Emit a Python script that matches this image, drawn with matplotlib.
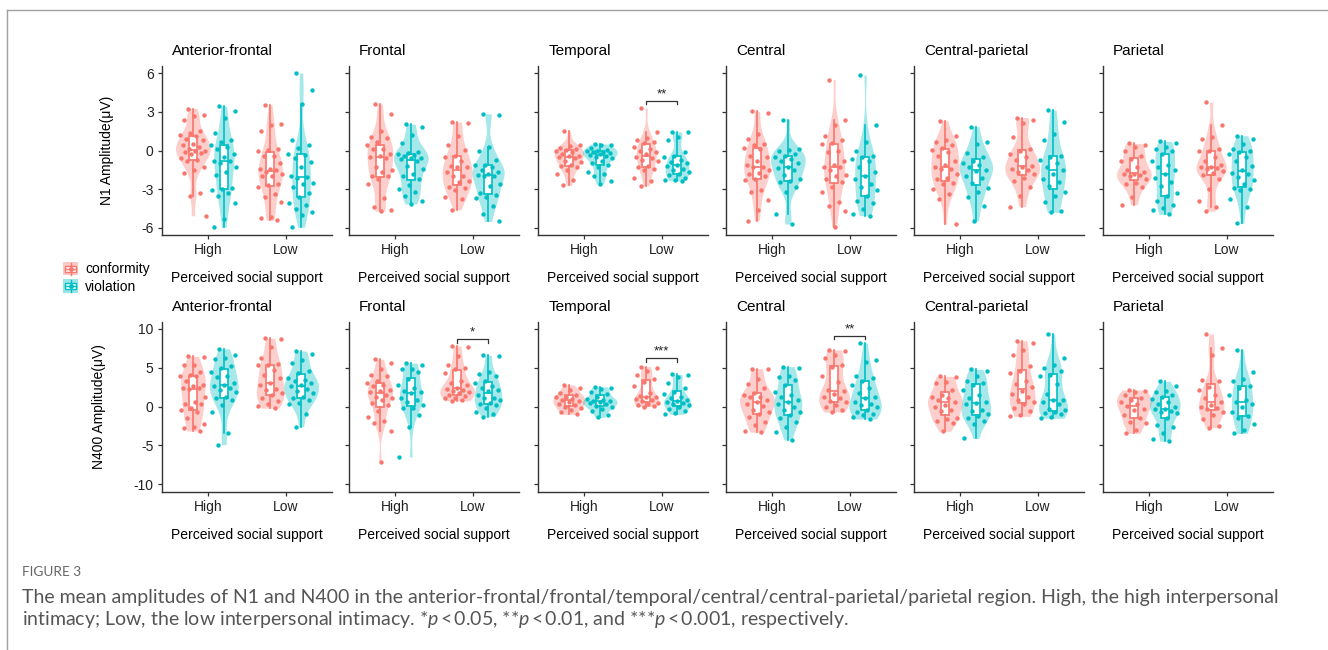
import numpy as np
import matplotlib
matplotlib.use('Agg')
import matplotlib.pyplot as plt
from matplotlib.patches import Rectangle, Patch
from matplotlib.lines import Line2D
from matplotlib.legend_handler import HandlerBase

plt.rcParams['font.family'] = ['Liberation Sans', 'DejaVu Sans']
plt.rcParams['mathtext.fontset'] = 'custom'
plt.rcParams['mathtext.it'] = 'Lato:italic'

regions = ['Anterior-frontal', 'Frontal', 'Temporal', 'Central', 'Central-parietal', 'Parietal']
support = ['High', 'Low']
conditions = ['conformity', 'violation']
cond_colors = ['#F8766D', '#00BFC4']

# N1 amplitude (uV); each region: [High-conformity, High-violation, Low-conformity, Low-violation]
n1_anterior_frontal = [
    [3.25, 2.73, 2.65, 2.34, 1.5, 1.35, 1.2, 1.1, 0.9, 0.78, 0.52, 0.39, 0.3, 0.15, 0.0, -0.05, -0.13, -0.2, -0.31, -0.6, -0.73, -0.78, -1.3, -1.5, -1.77, -3.3, -3.5, -5.06],
    [3.45, 3.1, 2.5, 1.35, 0.8, 0.65, 0.4, 0.3, 0.1, -0.3, -0.5, -0.8, -0.85, -1.0, -1.3, -1.7, -1.9, -2.9, -3.0, -3.1, -3.3, -3.5, -4.1, -5.3, -5.95],
    [3.55, 2.05, 2.0, 1.55, 0.1, 0.05, 0.0, -0.4, -0.45, -1.0, -1.4, -1.45, -1.5, -1.7, -1.8, -1.95, -2.0, -2.6, -2.65, -2.8, -3.4, -3.6, -4.0, -5.15, -5.2, -5.4],
    [6.0, 4.7, 3.6, 0.85, 0.4, 0.2, -0.3, -0.35, -0.6, -0.9, -1.3, -1.95, -2.05, -2.1, -2.5, -2.6, -2.85, -3.3, -3.6, -4.1, -4.2, -4.55, -4.8, -5.0, -5.95],
]
n1_frontal = [
    [3.6, 2.85, 1.55, 1.05, 1.0, 0.65, 0.4, 0.15, 0.1, -0.3, -0.45, -0.5, -0.55, -1.3, -1.55, -1.7, -1.95, -2.0, -2.2, -2.6, -3.7, -4.35, -4.65, -4.7],
    [2.05, 1.85, 1.2, 0.6, -0.1, -0.2, -0.25, -0.35, -0.45, -0.55, -0.6, -0.65, -0.8, -1.2, -1.4, -1.8, -1.95, -2.2, -2.7, -3.0, -3.25, -3.5, -3.9, -4.15],
    [2.2, 2.15, 1.15, 0.45, 0.05, -0.4, -0.5, -0.8, -1.2, -1.25, -1.3, -1.7, -1.95, -2.0, -2.35, -2.45, -2.8, -2.9, -3.1, -3.6, -3.75, -4.6],
    [2.85, 2.75, 0.3, 0.0, -0.75, -1.1, -1.15, -1.3, -1.5, -1.7, -1.8, -1.9, -1.95, -2.0, -2.6, -2.75, -3.3, -3.45, -3.6, -3.7, -4.3, -4.9, -5.5],
]
n1_temporal = [
    [1.5, 0.4, 0.35, 0.2, 0.1, 0.05, 0.0, -0.1, -0.25, -0.4, -0.45, -0.5, -0.6, -0.8, -0.9, -1.15, -1.2, -1.3, -1.55, -1.8, -2.3, -2.7],
    [0.5, 0.45, 0.4, 0.2, 0.05, 0.0, -0.05, -0.1, -0.15, -0.2, -0.25, -0.35, -0.4, -0.5, -0.6, -0.8, -1.0, -1.1, -1.25, -1.7, -1.85, -1.95, -2.4, -2.6],
    [3.3, 1.45, 1.0, 0.8, 0.65, 0.55, 0.25, 0.1, 0.0, -0.15, -0.3, -0.5, -0.55, -0.7, -0.8, -1.2, -1.3, -1.45, -1.5, -2.1, -2.35, -2.75],
    [1.45, 1.4, 1.05, 0.8, -0.15, -0.4, -0.5, -0.7, -0.9, -1.0, -1.1, -1.2, -1.4, -1.55, -1.7, -1.8, -1.9, -2.1, -2.25, -2.3, -2.35],
]
n1_central = [
    [3.05, 2.9, 1.3, 0.9, 0.5, 0.4, 0.2, 0.1, -0.4, -0.5, -0.8, -1.1, -1.25, -1.3, -1.5, -1.75, -1.8, -1.95, -2.2, -2.3, -3.05, -3.25, -3.8, -4.6, -5.45],
    [2.4, 0.15, 0.05, 0.0, -0.3, -0.4, -0.5, -0.65, -0.8, -1.0, -1.3, -1.35, -1.5, -1.9, -2.2, -2.35, -2.45, -2.8, -3.25, -4.95, -5.7],
    [5.5, 2.35, 1.95, 1.15, 0.8, 0.6, 0.5, 0.0, -0.1, -0.8, -1.15, -1.25, -1.3, -1.55, -1.9, -2.0, -2.2, -2.45, -2.8, -3.25, -4.0, -4.3, -4.7, -5.9],
    [5.85, 1.95, 0.65, 0.0, -0.4, -0.5, -0.65, -0.8, -1.3, -1.7, -1.95, -2.2, -2.6, -2.8, -3.1, -3.5, -3.9, -4.05, -4.55, -4.9, -5.05],
]
n1_central_parietal = [
    [2.3, 1.15, 0.8, 0.65, 0.4, 0.2, 0.05, -0.15, -0.4, -0.8, -1.15, -1.25, -1.4, -1.45, -1.8, -2.1, -2.2, -2.5, -2.6, -3.0, -3.4, -3.75, -5.7],
    [1.85, 0.65, 0.5, -0.2, -0.5, -0.8, -0.95, -1.15, -1.3, -1.5, -1.6, -1.95, -2.1, -2.5, -2.9, -3.25, -3.6, -4.3, -5.45],
    [2.55, 2.4, 2.1, 1.05, 0.15, 0.0, -0.25, -0.5, -0.75, -1.2, -1.25, -1.4, -1.55, -1.7, -1.8, -2.1, -2.35, -2.85, -3.5, -4.35],
    [3.15, 2.2, 1.25, 0.8, -0.4, -0.5, -0.7, -1.0, -1.3, -1.55, -1.8, -2.2, -2.45, -2.75, -3.25, -3.5, -4.0, -4.7, -4.8],
]
n1_parietal = [
    [0.55, 0.45, 0.25, 0.0, -0.4, -0.65, -0.8, -1.25, -1.55, -1.7, -1.8, -1.85, -1.9, -2.0, -2.2, -2.5, -2.6, -2.85, -3.6, -4.2],
    [0.7, 0.6, 0.25, 0.15, 0.0, -0.3, -0.8, -1.15, -1.3, -1.55, -1.85, -2.1, -2.45, -2.75, -3.3, -3.55, -3.95, -4.2, -4.45, -4.65, -4.95],
    [3.75, 1.95, 1.05, 0.9, 0.15, 0.0, -0.05, -0.5, -0.8, -1.15, -1.25, -1.3, -1.35, -1.45, -1.6, -1.75, -1.9, -2.2, -3.0, -3.9, -4.4, -4.7],
    [1.15, 0.9, 0.5, 0.15, 0.0, -0.1, -0.3, -0.5, -0.8, -1.2, -1.5, -1.75, -1.8, -2.05, -2.3, -2.6, -2.9, -3.0, -3.1, -3.75, -4.4, -5.65],
]

# N400 amplitude (uV)
n400_anterior_frontal = [
    [6.5, 6.4, 5.4, 5.3, 4.5, 4.1, 4.0, 3.9, 3.35, 2.8, 2.7, 2.4, 2.35, 2.3, 1.3, 0.55, 0.4, 0.3, -0.2, -0.45, -0.65, -1.5, -2.3, -2.6, -2.8, -3.15],
    [7.45, 6.7, 6.3, 6.1, 5.2, 5.0, 4.4, 3.9, 3.8, 3.0, 2.8, 2.7, 2.4, 2.2, 1.9, 1.3, 1.05, 0.9, 0.2, -0.75, -3.35, -4.9],
    [8.8, 8.7, 7.65, 6.3, 5.5, 5.4, 5.3, 4.75, 4.1, 3.7, 3.0, 2.8, 2.3, 2.1, 1.8, 1.45, 1.1, 0.75, 0.3, 0.1, -0.2],
    [7.15, 6.8, 6.05, 5.6, 4.65, 4.3, 3.7, 3.45, 3.25, 3.0, 2.8, 2.6, 2.3, 2.05, 1.75, 1.3, 1.05, 0.85, 0.45, 0.3, -1.0, -2.6],
]
n400_frontal = [
    [6.1, 5.6, 4.9, 4.1, 3.9, 3.25, 3.0, 2.8, 2.6, 2.1, 2.0, 1.9, 1.5, 1.3, 1.1, 0.9, 0.5, 0.2, -0.6, -1.3, -1.9, -2.05, -3.15, -7.1],
    [5.6, 5.4, 4.9, 4.8, 4.5, 3.5, 2.8, 2.4, 2.05, 1.85, 1.7, 1.1, 0.9, 0.65, 0.2, -0.15, -0.2, -1.1, -2.6, -6.5],
    [7.8, 7.65, 6.5, 5.4, 5.0, 4.8, 4.3, 3.25, 3.0, 2.8, 2.45, 2.3, 2.15, 2.0, 1.85, 1.7, 1.5, 1.4, 1.15, 1.05, 0.85, 0.75],
    [6.6, 6.5, 4.45, 4.2, 4.0, 3.25, 3.0, 2.6, 2.45, 2.15, 2.0, 1.5, 1.15, 1.05, 0.85, 0.45, 0.3, 0.2, -0.2, -0.65, -1.0, -1.3],
]
n400_temporal = [
    [2.8, 2.4, 2.1, 1.8, 1.55, 1.3, 1.2, 1.0, 0.85, 0.75, 0.6, 0.3, 0.25, 0.0, -0.2, -0.5, -0.7, -1.0],
    [2.55, 2.45, 2.3, 1.9, 1.6, 1.3, 1.0, 0.8, 0.75, 0.7, 0.55, 0.45, 0.3, 0.1, 0.0, -0.3, -0.6, -1.05, -1.4],
    [5.15, 4.95, 4.6, 4.1, 3.6, 3.2, 2.6, 1.7, 1.4, 1.3, 1.2, 1.0, 0.85, 0.7, 0.45, 0.3, 0.2, 0.1, 0.0],
    [4.15, 4.1, 3.85, 3.0, 2.35, 1.85, 1.6, 1.3, 1.05, 0.85, 0.7, 0.55, 0.45, 0.3, 0.15, 0.0, -0.3, -0.55, -0.85, -1.0],
]
n400_central = [
    [4.9, 4.85, 3.6, 2.95, 2.4, 1.7, 1.5, 1.3, 1.2, 0.9, 0.55, 0.3, 0.1, -0.45, -0.65, -1.0, -1.3, -1.95, -2.35, -3.1, -3.3],
    [5.15, 4.95, 4.0, 3.85, 3.4, 2.8, 1.9, 1.5, 1.3, 0.85, 0.55, 0.3, 0.0, -0.45, -0.65, -1.1, -1.5, -1.95, -2.6, -3.25, -4.3],
    [7.3, 7.1, 6.7, 6.2, 5.3, 5.1, 3.9, 3.2, 2.15, 2.0, 1.6, 1.3, 1.1, 0.75, 0.55, 0.2, -0.1, -0.4, -0.7],
    [8.2, 6.0, 5.8, 4.0, 3.7, 3.25, 2.8, 2.35, 1.7, 1.3, 1.1, 0.55, 0.3, 0.2, 0.0, -0.45, -0.75, -1.0, -1.1, -1.3, -1.6],
]
n400_central_parietal = [
    [3.9, 3.8, 3.2, 3.05, 2.15, 1.5, 1.3, 1.1, 0.9, 0.6, 0.25, 0.0, -0.4, -0.55, -1.5, -1.6, -1.85, -2.1, -3.2],
    [4.8, 4.55, 4.0, 3.25, 3.0, 2.8, 2.15, 1.5, 1.05, 0.55, 0.45, 0.3, -0.4, -0.6, -1.0, -1.25, -1.45, -1.9, -2.25, -4.1],
    [8.5, 8.2, 7.3, 6.7, 5.2, 4.6, 4.3, 3.25, 2.85, 2.5, 2.0, 1.6, 1.3, 0.9, 0.6, 0.3, -0.2, -0.6, -1.05, -1.25],
    [9.35, 6.3, 5.4, 5.0, 4.55, 4.1, 3.9, 2.9, 1.6, 0.9, 0.85, 0.6, 0.3, -0.25, -0.5, -0.65, -0.8, -1.0, -1.3, -1.5],
]
n400_parietal = [
    [2.15, 2.0, 1.85, 1.5, 1.05, 0.85, 0.6, 0.3, 0.1, -0.25, -0.5, -1.05, -1.5, -2.0, -2.1, -3.0, -3.45],
    [3.25, 2.6, 2.0, 1.85, 1.5, 1.3, 1.0, 0.6, 0.35, 0.0, -0.25, -0.3, -0.55, -0.65, -0.85, -1.5, -2.35, -2.6, -3.45, -4.2, -4.45],
    [9.35, 7.55, 6.6, 3.45, 3.25, 2.5, 2.15, 1.5, 1.1, 0.6, 0.25, 0.0, -0.2, -0.3, -0.7, -1.05, -1.55, -2.5, -2.7],
    [7.3, 4.5, 3.6, 3.3, 2.7, 2.45, 1.5, 0.85, 0.6, 0.3, 0.0, -0.75, -1.15, -1.5, -2.3, -3.0, -3.45],
]

n1_data = [n1_anterior_frontal, n1_frontal, n1_temporal, n1_central, n1_central_parietal, n1_parietal]
n400_data = [n400_anterior_frontal, n400_frontal, n400_temporal, n400_central, n400_central_parietal, n400_parietal]

# significance marks on the "Low" group: (row, column, label, bracket height)
sig_marks = [(0, 2, '**', 3.85), (1, 1, '*', 8.65), (1, 2, '***', 6.2), (1, 3, '**', 9.1)]

row_ylabels = ['N1 Amplitude(\u03bcV)', 'N400 Amplitude(\u03bcV)']
row_ticks = [[-6, -3, 0, 3, 6], [-10, -5, 0, 5, 10]]
row_ylim = [(-6.55, 6.55), (-11.0, 10.9)]


def kde(vals, grid):
    v = np.asarray(vals, float)
    n = len(v)
    q75, q25 = np.percentile(v, [75, 25])
    bw = 0.9 * min(v.std(ddof=1), (q75 - q25) / 1.34) * n ** -0.2
    z = (grid[:, None] - v[None, :]) / bw
    return np.exp(-0.5 * z ** 2).sum(1) / (n * bw * np.sqrt(2 * np.pi))


class BoxKey(HandlerBase):
    def create_artists(self, legend, orig, xd, yd, w, h, fs, trans):
        c = orig.get_edgecolor()
        x0, y0 = -xd, -yd
        bg = Rectangle((x0, y0), w, h, facecolor=orig.get_facecolor(), edgecolor='none', transform=trans)
        box = Rectangle((x0 + 0.15 * w, y0 + 0.28 * h), 0.7 * w, 0.44 * h, facecolor='white',
                        edgecolor=c, lw=1, transform=trans)
        mid = Line2D([x0 + 0.15 * w, x0 + 0.85 * w], [y0 + 0.5 * h] * 2, color=c, lw=1, transform=trans)
        w1 = Line2D([x0 + 0.5 * w] * 2, [y0 + 0.05 * h, y0 + 0.28 * h], color=c, lw=1, transform=trans)
        w2 = Line2D([x0 + 0.5 * w] * 2, [y0 + 0.72 * h, y0 + 0.95 * h], color=c, lw=1, transform=trans)
        dot = Line2D([x0 + 0.5 * w], [y0 + 0.5 * h], marker='o', ms=2.5, color=c, lw=0, transform=trans)
        return [bg, box, mid, w1, w2, dot]


W, H = 1328, 650
fig = plt.figure(figsize=(W / 100, H / 100), dpi=100)

ax_left = [162, 349, 538, 726, 914, 1103]
ax_w = 170
row_top = [66, 322]
row_h = [169, 170]

dodge = 0.2
half_w = 0.225
jit = 0.17
fs = 10

for r, data in enumerate([n1_data, n400_data]):
    for ci, region in enumerate(regions):
        ax = fig.add_axes([ax_left[ci] / W, 1 - (row_top[r] + row_h[r]) / H, ax_w / W, row_h[r] / H])
        groups = []
        for si in range(2):
            for k in range(2):
                groups.append((si + 1 + (k - 0.5) * 2 * dodge, k, data[ci][si * 2 + k]))
        # violins, scaled by area within a panel
        dens = []
        for x, k, vals in groups:
            grid = np.linspace(min(vals), max(vals), 256)
            dens.append((grid, kde(vals, grid)))
        dmax = max(d.max() for _, d in dens)
        for (x, k, vals), (grid, d) in zip(groups, dens):
            c = cond_colors[k]
            ax.fill_betweenx(grid, x - half_w * d / dmax, x + half_w * d / dmax,
                             color=c, alpha=0.35, lw=0, zorder=1)
            ax.boxplot(vals, positions=[x], widths=0.1, patch_artist=True, showfliers=False,
                       showcaps=False, manage_ticks=False,
                       boxprops=dict(facecolor='white', edgecolor=c, lw=1.2),
                       medianprops=dict(color=c, lw=1.2),
                       whiskerprops=dict(color=c, lw=1.2), zorder=2)
            n = len(vals)
            off = ((np.arange(n) * 0.6180339887 + 0.31) % 1 * 2 - 1) * jit
            ax.scatter(x + off, vals, s=10, color=c, lw=0, zorder=3)

        for rr, cc, lab, yb in sig_marks:
            if rr == r and cc == ci:
                x1, x2 = 2 - dodge, 2 + dodge
                drop = (row_ylim[r][1] - row_ylim[r][0]) * 0.02
                ax.plot([x1, x1, x2, x2], [yb - drop, yb, yb, yb - drop], color='#333333', lw=0.9)
                ax.text(2, yb + drop * 0.2, lab, ha='center', va='bottom', fontsize=9.5, color='#222222')

        ax.set_xlim(0.4, 2.6)
        ax.set_ylim(*row_ylim[r])
        ax.set_xticks([1, 2])
        ax.set_xticklabels(support)
        ax.set_yticks(row_ticks[r])
        if ci == 0:
            ax.set_yticklabels([str(t) for t in row_ticks[r]])
            ax.set_ylabel(row_ylabels[r], fontsize=fs, labelpad=20)
        else:
            ax.set_yticklabels([])
        ax.set_xlabel('Perceived social support', fontsize=fs, labelpad=10)
        ax.tick_params(labelsize=fs, length=3, width=0.9, colors='#333333', labelcolor='#222222', pad=3)
        for s in ['top', 'right']:
            ax.spines[s].set_visible(False)
        for s in ['left', 'bottom']:
            ax.spines[s].set_linewidth(1.0)
            ax.spines[s].set_color('#333333')
        ax.text(0.06, 1.045, region, transform=ax.transAxes, fontsize=11, ha='left', va='bottom')

handles = [Patch(facecolor=(*matplotlib.colors.to_rgb(c), 0.4), edgecolor=c) for c in cond_colors]
fig.legend(handles, conditions, loc='upper left', bbox_to_anchor=(63 / W, 1 - 262 / H),
           handler_map={Patch: BoxKey()}, frameon=False, fontsize=fs, handlelength=1.1,
           handleheight=1.1, labelspacing=0.2, handletextpad=0.5, borderpad=0, borderaxespad=0)

# page frame
fig.add_artist(Line2D([7 / W, 1], [1 - 10 / H, 1 - 10 / H], color='#a0a0a0', lw=1))
fig.add_artist(Line2D([7 / W, 7 / W], [0, 1 - 10 / H], color='#a0a0a0', lw=1))

fig.text(22 / W, 1 - 572 / H, 'FIGURE 3', fontsize=9.8, color='#666666', va='center',
         family=['Lato', 'DejaVu Sans'])
fig.text(22 / W, 1 - 597 / H,
         'The mean amplitudes of N1 and N400 in the anterior-frontal/frontal/temporal/central/'
         'central-parietal/parietal region. High, the high interpersonal',
         fontsize=14, color='#555555', va='center', family=['Lato', 'DejaVu Sans'])
fig.text(22 / W, 1 - 620 / H,
         'intimacy; Low, the low interpersonal intimacy. *$p$\u2009<\u20090.05, **$p$\u2009<\u20090.01, '
         'and ***$p$\u2009<\u20090.001, respectively.',
         fontsize=14, color='#555555', va='center', family=['Lato', 'DejaVu Sans'])

fig.savefig('out.png', dpi=100)
